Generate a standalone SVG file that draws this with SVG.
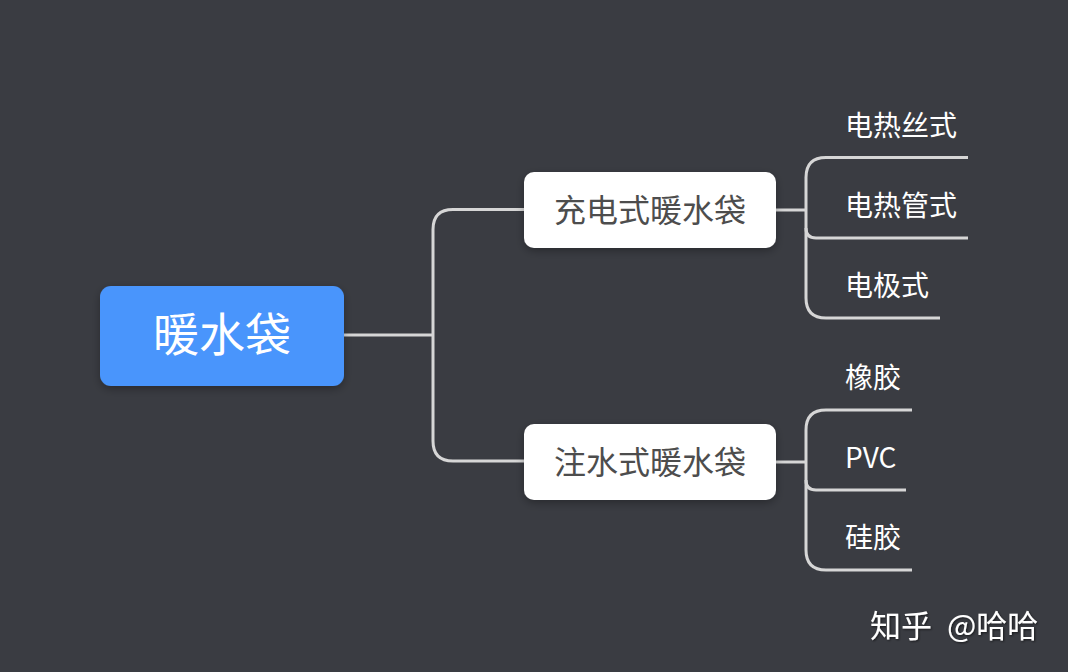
<svg xmlns="http://www.w3.org/2000/svg" width="1068" height="672" viewBox="0 0 1068 672">
<style>
text{font-family:"Noto Sans CJK SC","Noto Sans",sans-serif;dominant-baseline:central}
.conn{fill:none;stroke:#d6d6d6;stroke-width:3;stroke-linecap:butt}
.leaf{fill:#ffffff;font-size:28px}
.branch{fill:#ffffff}
.btext{fill:#4d4d4d;font-size:32px;text-anchor:middle}
</style>
<defs>
<filter id="sh" x="-10%" y="-20%" width="130%" height="150%">
<feDropShadow dx="0" dy="3" stdDeviation="4" flood-color="#000" flood-opacity="0.3"/>
</filter>
<filter id="tsh" x="-10%" y="-30%" width="120%" height="160%">
<feDropShadow dx="1" dy="1" stdDeviation="1" flood-color="#000" flood-opacity="0.6"/>
</filter>
</defs>
<rect width="1068" height="672" fill="#3a3c42"/>
<g id="connectors">
<path class="conn" d="M344 335 H433"/>
<path class="conn" d="M525 209.5 H453 Q433 209.5 433 229.5 V441 Q433 461 453 461 H525"/>
<path class="conn" d="M776 210 H806"/>
<path class="conn" d="M968 157.5 H826 Q806 157.5 806 177.5 V298 Q806 318 826 318 H940"/>
<path class="conn" d="M806 228 Q806 238 816 238 H968"/>
<path class="conn" d="M776 462 H806"/>
<path class="conn" d="M912 410 H826 Q806 410 806 430 V550 Q806 570 826 570 H912"/>
<path class="conn" d="M806 480 Q806 490 816 490 H906"/>
</g>
<g id="root">
<rect x="100" y="286" width="244" height="100" rx="11" fill="#4895fc" filter="url(#sh)"/>
<text x="222" y="331" fill="#ffffff" font-size="46" text-anchor="middle">暖水袋</text>
</g>
<g id="n-charge">
<rect class="branch" x="524" y="172" width="252" height="76" rx="10" filter="url(#sh)"/>
<text class="btext" x="650" y="208">充电式暖水袋</text>
</g>
<g id="n-fill">
<rect class="branch" x="524" y="424" width="252" height="76" rx="10" filter="url(#sh)"/>
<text class="btext" x="650" y="460">注水式暖水袋</text>
</g>
<g id="l1"><text class="leaf" x="845" y="124">电热丝式</text></g>
<g id="l2"><text class="leaf" x="845" y="204">电热管式</text></g>
<g id="l3"><text class="leaf" x="845" y="284">电极式</text></g>
<g id="l4"><text class="leaf" x="845" y="376">橡胶</text></g>
<g id="l5"><text class="leaf" x="845" y="456">PVC</text></g>
<g id="l6"><text class="leaf" x="845" y="536">硅胶</text></g>
<g id="watermark">
<text x="870" y="623" fill="#ffffff" font-size="31" filter="url(#tsh)">知乎<tspan x="947">@哈哈</tspan></text>
</g>
</svg>
